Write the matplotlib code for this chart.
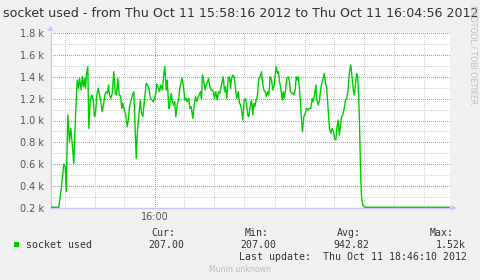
import matplotlib
matplotlib.use("Agg")
import matplotlib.pyplot as plt
from matplotlib.patches import Polygon, Rectangle

# seconds since 15:58:16
times = [0, 8.3, 11, 13.3, 14.7, 15.7, 17.3, 19, 20.3, 21.7, 23.3, 25, 26.7, 28, 29, 30.7, 31.7, 33, 34, 35, 36,
         37.3, 38.3, 39.7, 41.3, 42.7, 44, 45, 46.3, 47.7, 49, 50.3, 51.7, 53, 54.3, 55.7, 57, 58, 59, 60.3,
         61.7, 63.3, 64.7, 66, 67.3, 68.7, 70, 71.3, 72.3, 73.7, 75, 76.7, 77.7, 79, 80.7, 82, 83.3, 85.7, 87,
         88.3, 89.7, 91, 92.3, 94, 95.7, 97, 98.3, 100, 101.3, 102.7, 104, 105.3, 106.3, 108, 109, 110.3, 112,
         113, 114.3, 115.7, 116.7, 118.3, 119.3, 120.7, 121.7, 123, 124.3, 125.3, 126.7, 128, 129.3, 130.7,
         131.7, 133, 134.3, 135.7, 136.7, 138.3, 139.3, 140.7, 142.3, 143.7, 145, 146.3, 147.7, 148.7, 150,
         151, 152, 153.3, 154.7, 155.7, 157, 158, 159.3, 160.7, 161.7, 163, 164, 165.3, 166.7, 168, 169.3,
         170.7, 171.7, 172.7, 174, 175, 176.3, 177.7, 179, 180, 181, 182.3, 183.7, 185, 186.3, 187.7, 189,
         190, 191, 192.3, 193.7, 195, 196, 197.3, 198.3, 199.7, 201, 202.3, 203.3, 204.3, 205.7, 207, 208.3,
         209.7, 211, 212.3, 213.3, 214.7, 216, 217, 218.3, 219.7, 221, 222.3, 223.7, 224.7, 225.7, 227, 228,
         229, 230.3, 231.7, 232.7, 233.7, 235, 236.3, 237.7, 239, 240, 241.3, 242.3, 243.3, 244.7, 245.7,
         246.7, 247.7, 248.7, 250, 251, 252, 253.3, 254.7, 256, 257.3, 259, 260.3, 261.7, 262.7, 264, 265.3,
         266.3, 267.7, 269, 270.3, 271.3, 272.7, 273.7, 275, 276, 277, 278, 279, 280.3, 281.7, 283, 284,
         285.3, 286.3, 287.7, 288.7, 289.7, 291, 292.3, 293.7, 295, 296.3, 297.7, 299, 300.3, 301.7, 303,
         304, 305, 306.3, 307.3, 308.3, 309, 309.7, 310.3, 311, 312.3, 314, 399]
values = [207, 207, 395, 602, 578, 349, 1050, 806, 928, 791, 608, 1035, 1370, 1294, 1385, 1279, 1400, 1309, 1385,
          1294, 1431, 1492, 928, 1187, 1233, 1187, 1035, 1065, 1233, 1294, 1233, 1172, 1081, 1142, 1233, 1263,
          1248, 1324, 1233, 1202, 1248, 1446, 1248, 1233, 1385, 1233, 1224, 1111, 1157, 1096, 1065, 943, 1004,
          1126, 1187, 1233, 1263, 654, 913, 1035, 1187, 1065, 1035, 1187, 1340, 1324, 1294, 1202, 1187, 1172,
          1202, 1248, 1334, 1294, 1263, 1324, 1279, 1400, 1492, 1279, 1370, 1111, 1142, 1248, 1187, 1142, 1172,
          1035, 1142, 1187, 1294, 1355, 1385, 1309, 1187, 1202, 1172, 1202, 1111, 1126, 1020, 1142, 1218, 1172,
          1218, 1233, 1263, 1202, 1416, 1355, 1279, 1324, 1355, 1385, 1309, 1279, 1279, 1263, 1202, 1263, 1187,
          1263, 1248, 1309, 1355, 1400, 1263, 1309, 1202, 1385, 1400, 1294, 1385, 1416, 1400, 1294, 1202, 1263,
          1157, 1142, 1096, 1004, 1187, 1202, 1157, 1050, 1035, 1126, 1187, 1050, 1157, 1126, 1187, 1233, 1385,
          1400, 1446, 1324, 1279, 1263, 1218, 1263, 1233, 1400, 1370, 1279, 1324, 1416, 1492, 1431, 1446, 1355,
          1294, 1187, 1263, 1202, 1279, 1385, 1400, 1355, 1263, 1248, 1248, 1233, 1279, 1400, 1370, 1400, 1324,
          1157, 1004, 898, 1035, 1065, 1111, 1096, 1111, 1111, 1202, 1172, 1233, 1324, 1187, 1142, 1187, 1294,
          1340, 1385, 1431, 1340, 1309, 1187, 1050, 928, 883, 928, 898, 837, 822, 928, 1004, 867, 928, 1035,
          1050, 1111, 1187, 1202, 1294, 1446, 1507, 1385, 1263, 1233, 1340, 1431, 1400, 1187, 974, 700, 456,
          304, 227, 207, 207]

ytick_vals = [200, 400, 600, 800, 1000, 1200, 1400, 1600, 1800]
ytick_labels = ["0.2 k", "0.4 k", "0.6 k", "0.8 k", "1.0 k", "1.2 k", "1.4 k", "1.6 k", "1.8 k"]
xtick_vals = [104]
xtick_labels = ["16:00"]

title = "socket used - from Thu Oct 11 15:58:16 2012 to Thu Oct 11 16:04:56 2012"
series_name = "socket used"
stat_heads = ["Cur:", "Min:", "Avg:", "Max:"]
stat_vals = ["207.00", "207.00", "942.82", "1.52k"]
last_update = "Last update:  Thu Oct 11 18:46:10 2012"

W, H = 481, 280
BG = "#F0F0F0"
AXC = "#C8C8F8"
GREEN = "#00CC00"

fig = plt.figure(figsize=(W / 100, H / 100), dpi=100, facecolor=BG)

def fx(x):
    return x / W

def fy(y):
    return 1 - y / H

L, R, T, B = 50.5, 450.5, 33.0, 208.0
ax = fig.add_axes([fx(L), fy(B), (R - L) / W, (B - T) / H])
ax.set_facecolor("white")
ax.set_xlim(0, 400)
ax.set_ylim(200, 1800)

# grid (1px dots, 1px gaps)
px = 0.72
gkw = dict(lw=px, ls=(0.5, (1, 1)), zorder=1)
for v in range(300, 1800, 200):
    ax.axhline(v, color="#D0D0D0", **gkw)
for v in ytick_vals[1:]:
    ax.axhline(v, color="#E88484", **gkw)
for t in range(14, 400, 30):
    if t in xtick_vals:
        ax.axvline(t, color="#F08080", **gkw)
    else:
        ax.axvline(t, color="#D0D0D0", **gkw)

ax.plot(times, values, color=GREEN, lw=1.0, zorder=3, solid_joinstyle="round")

for s in ["top", "right"]:
    ax.spines[s].set_visible(False)
for s in ["left", "bottom"]:
    ax.spines[s].set_color(AXC)
    ax.spines[s].set_linewidth(1.0)

ax.set_yticks(ytick_vals)
ax.set_yticklabels(ytick_labels)
ax.set_xticks(xtick_vals)
ax.set_xticklabels(xtick_labels)
ax.tick_params(axis="both", length=0, labelsize=7, colors="#555555")
ax.tick_params(axis="y", pad=4.6)
ax.tick_params(axis="x", pad=3)
for lab in ax.get_xticklabels() + ax.get_yticklabels():
    lab.set_family("DejaVu Sans")

# axis arrows (in figure pixel coords)
arr1 = Polygon([[fx(47.5), fy(31)], [fx(53.5), fy(31)], [fx(50.5), fy(25.5)]], closed=True,
               transform=fig.transFigure, facecolor=AXC, edgecolor="none")
arr2 = Polygon([[fx(451), fy(205)], [fx(451), fy(211)], [fx(457), fy(208)]], closed=True,
               transform=fig.transFigure, facecolor=AXC, edgecolor="none")
fig.add_artist(arr1)
fig.add_artist(arr2)

# title
fig.text(fx(3), fy(13.5), title, fontsize=9.05, color="#333333", va="center", ha="left",
         family="DejaVu Sans")

# rrdtool watermark
fig.text(fx(473.5), fy(5), "RRDTOOL / TOBI OETIKER", fontsize=5.6, color="#C0C0C0", rotation=270,
         va="top", ha="center", family="DejaVu Sans")

# legend
mono = "DejaVu Sans Mono"
fig.add_artist(Rectangle((fx(14), fy(247)), 5.3 / W, 5.3 / H, transform=fig.transFigure,
                         facecolor=GREEN, edgecolor="none"))
fig.text(fx(26.5), fy(245), series_name, fontsize=7.1, family=mono, color="#333333", va="center", ha="left")
head_right = [175.7, 269.0, 361.0, 453.3]
val_right = [184.0, 276.7, 369.3, 465.7]
for hname, hr, v, vr in zip(stat_heads, head_right, stat_vals, val_right):
    fig.text(fx(hr), fy(233.3), hname, fontsize=7.1, family=mono, color="#333333", va="center", ha="right")
    fig.text(fx(vr), fy(245), v, fontsize=7.1, family=mono, color="#333333", va="center", ha="right")
fig.text(fx(467.3), fy(257.3), last_update, fontsize=7.1, family=mono, color="#333333", va="center", ha="right")
fig.text(fx(240.5), fy(269.3), "Munin unknown", fontsize=5.6, family="DejaVu Sans", color="#BBBBBB",
         va="center", ha="center")

fig.savefig("out.png", dpi=100, facecolor=BG)
